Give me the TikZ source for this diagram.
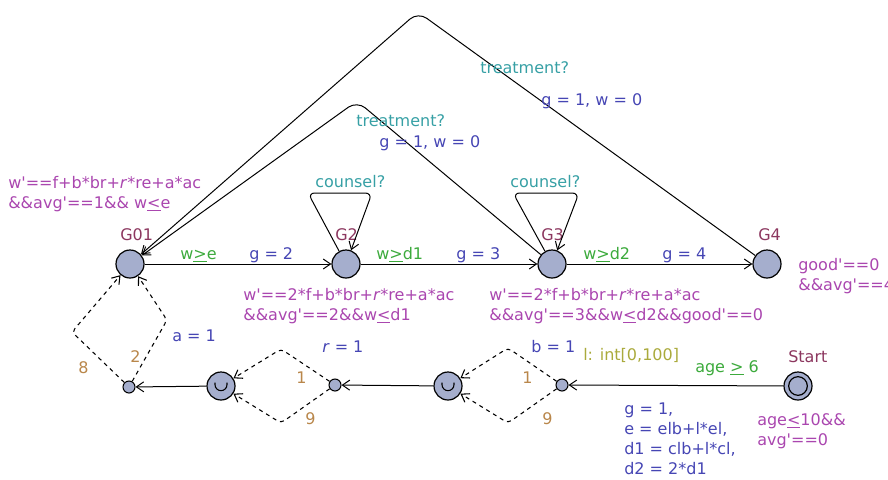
\documentclass[tikz,border=0pt]{standalone}
\usepackage{fontspec}
\setmainfont{DejaVu Sans}
\usetikzlibrary{arrows.meta}
\definecolor{locfill}{RGB}{165,174,205}
\definecolor{namecol}{RGB}{140,55,95}
\definecolor{invcol}{RGB}{170,70,175}
\definecolor{guardcol}{RGB}{60,170,60}
\definecolor{updcol}{RGB}{70,70,180}
\definecolor{synccol}{RGB}{55,160,165}
\definecolor{selcol}{RGB}{170,170,60}
\definecolor{probcol}{RGB}{185,135,75}
\newcommand{\geU}{\underline{>}}
\newcommand{\leU}{\underline{<}}
\newcommand{\pq}{\textquotesingle}

\begin{document}
\begin{tikzpicture}[x=0.75pt,y=-0.75pt,
    >={Straight Barb[length=5.5pt,width=7.5pt]},
    loc/.style={circle,draw,line width=0.9pt,fill=locfill,minimum size=21pt,inner sep=0pt},
    branch/.style={circle,draw,line width=0.8pt,fill=locfill,minimum size=9pt,inner sep=0pt},
    urgent/.style={loc,path picture={\draw[line width=0.8pt] ([xshift=-4.5pt,yshift=2.5pt]path picture bounding box.center)
        -- ++(0,-1.5pt) arc[start angle=180,end angle=360,radius=4.5pt] -- ++(0,1.5pt);}},
    edge/.style={->,line width=0.75pt},
    probedge/.style={->,dashed,line width=0.8pt,rounded corners=3pt},
    txt/.style={anchor=base west,inner sep=0pt,align=left,font=\fontsize{12}{15}\selectfont},
    locname/.style={txt,text=namecol},
    inv/.style={txt,text=invcol},
    guard/.style={txt,text=guardcol},
    upd/.style={txt,text=updcol},
    sync/.style={txt,text=synccol},
    sel/.style={txt,text=selcol},
    prob/.style={txt,text=probcol}]
  \useasboundingbox (0,0) rectangle (888,479);

  % locations
  \node[loc] (G01) at (130,264) {};
  \node[loc] (G2) at (346,264) {};
  \node[loc] (G3) at (552,264) {};
  \node[loc] (G4) at (767,264) {};
  \node[loc] (Start) at (798,386) {};
  \node[loc,minimum size=14pt] (StartIn) at (798,386) {};
  \node[urgent] (U1) at (448,386) {};
  \node[urgent] (U2) at (221,386) {};
  \node[branch] (B1) at (562,385) {};
  \node[branch] (B2) at (335,385) {};
  \node[branch] (B3) at (129,387) {};

  \node[locname] (nG01) at (120,240) {G01};
  \node[locname] (nG2) at (335,240) {G2};
  \node[locname] (nG3) at (541,240) {G3};
  \node[locname] (nG4) at (758,240) {G4};
  \node[locname] (nStart) at (788,362) {Start};

  % invariants (base = last line)
  \node[inv] (iG01) at (8,208) {w\pq==f+b*br+\textit{r}*re+a*ac\\\&\&avg\pq==1\&\& w\leU e};
  \node[inv] (iG2) at (243,320) {w\pq==2*f+b*br+\textit{r}*re+a*ac\\\&\&avg\pq==2\&\&w\leU d1};
  \node[inv] (iG3) at (489,320) {w\pq==2*f+b*br+\textit{r}*re+a*ac\\\&\&avg\pq==3\&\&w\leU d2\&\&good\pq==0};
  \node[inv] (iG4) at (798,290) {good\pq==0\\\&\&avg\pq==4};
  \node[inv] (iStart) at (757,445) {age\leU 10\&\&\\avg\pq==0};

  % edges
  \draw[edge] (G01) -- (G2);
  \draw[edge] (G2) -- (G3);
  \draw[edge] (G3) -- (G4);
  \draw[edge,rounded corners=5pt] (G2) -- (308,193) -- (372,193) -- (G2);
  \draw[edge,rounded corners=5pt] (G3) -- (513,193) -- (579,193) -- (G3);
  \draw[edge,rounded corners=8pt] (G3) -- (357,101) -- (G01);
  \draw[edge,rounded corners=8pt] (G4) -- (418,12) -- (G01);

  \draw[edge] (Start) -- (B1);
  \draw[edge] (U1) -- (B2);
  \draw[edge] (U2) -- (B3);
  \draw[probedge] (B1) -- (508,348) -- (U1);
  \draw[probedge] (B1) -- (508,423) -- (U1);
  \draw[probedge] (B2) -- (281,349) -- (U2);
  \draw[probedge] (B2) -- (281,423) -- (U2);
  \draw[probedge] (B3) -- (72,332) -- (G01);
  \draw[probedge] (B3) -- (167,320) -- (G01);

  % labels
  \node[guard] (gA) at (180,259) {w\geU e};
  \node[guard] (gB) at (376,259) {w\geU d1};
  \node[guard] (gC) at (583,259) {w\geU d2};
  \node[guard] (gD) at (695,372) {age \geU{} 6};
  \node[upd] (uA) at (249,259) {g = 2};
  \node[upd] (uB) at (456,259) {g = 3};
  \node[upd] (uC) at (662,259) {g = 4};
  \node[upd] (uD) at (541,105) {g = 1, w = 0};
  \node[upd] (uE) at (379,147) {g = 1, w = 0};
  \node[upd] (uF) at (172,341) {a = 1};
  \node[upd] (uG) at (322,352) {\textit{r} = 1};
  \node[upd] (uH) at (531,352) {b = 1};
  \node[upd] (uI) at (624,474) {g = 1,\\e = elb+l*el,\\d1 = clb+l*cl,\\d2 = 2*d1};
  \node[sync] (sA) at (315,187) {counsel?};
  \node[sync] (sB) at (510,187) {counsel?};
  \node[sync] (sC) at (480,73) {treatment?};
  \node[sync] (sD) at (356,126) {treatment?};
  \node[sel] (lA) at (583,360) {l: int[0,100]};
  \foreach \x/\y/\p [count=\i] in {78/373/8, 130/362/2, 296/383/1, 305/424/9, 522/383/1, 542/424/9}
    \node[prob] (p\i) at (\x,\y) {\p};
\end{tikzpicture}
\end{document}
